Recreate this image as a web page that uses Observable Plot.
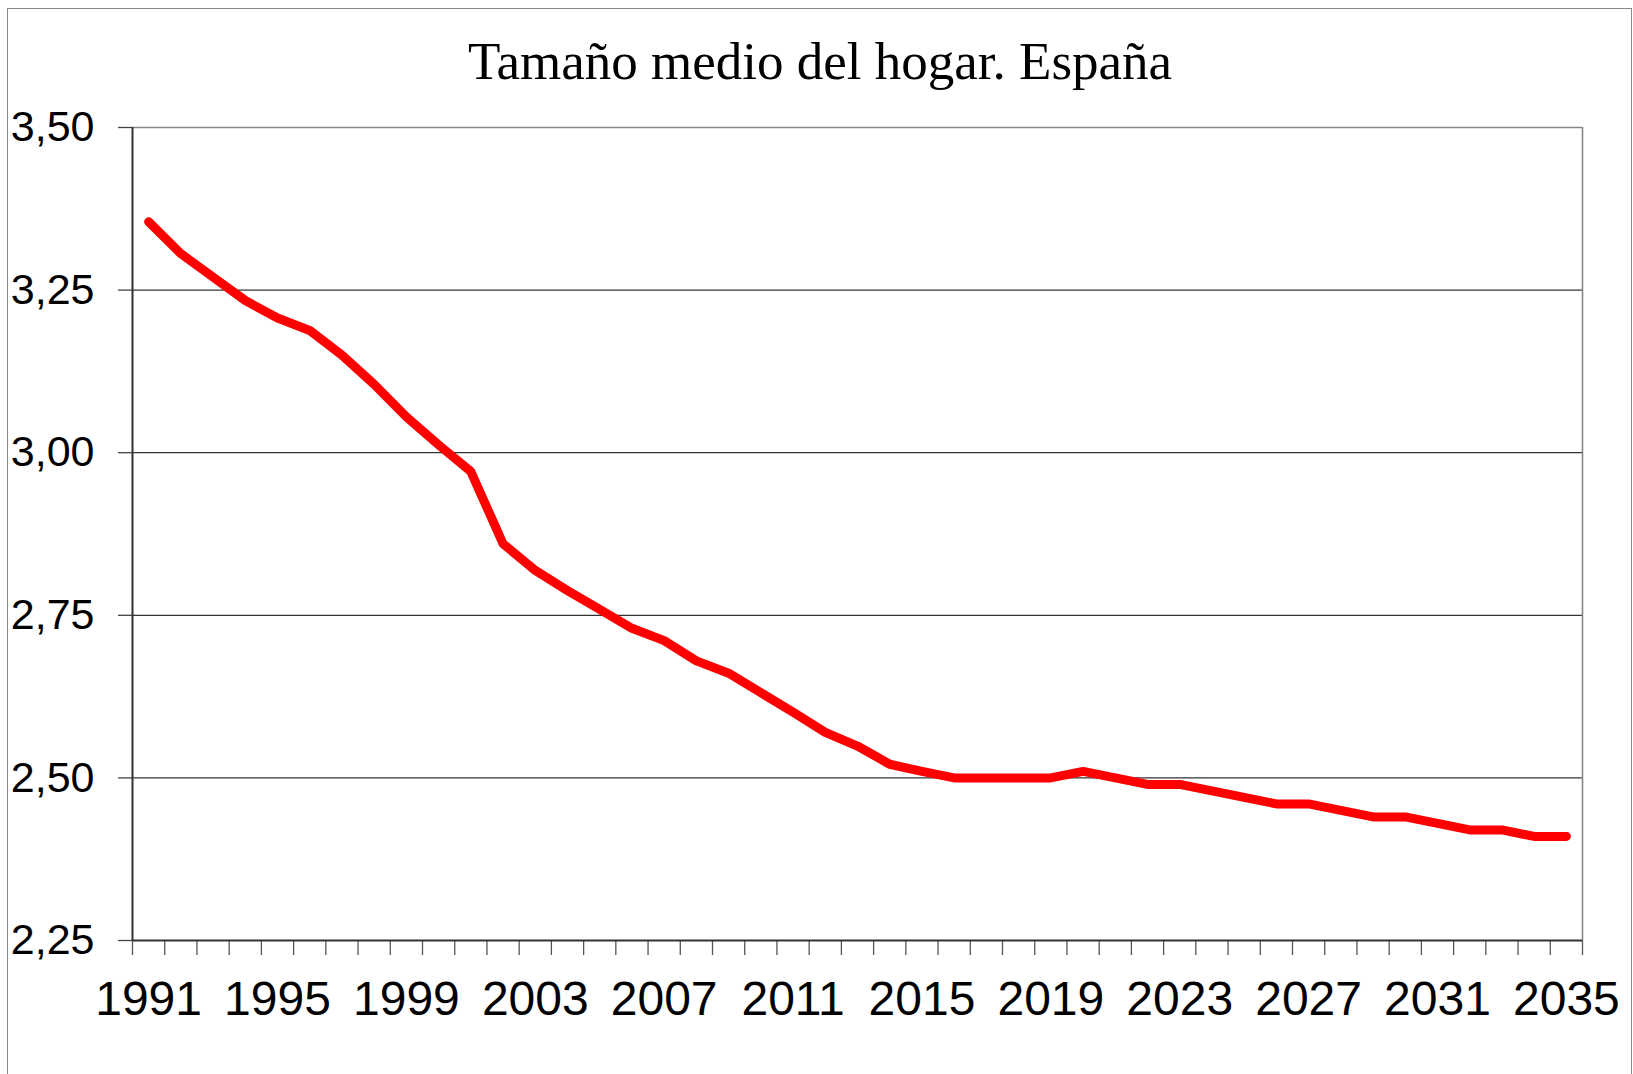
<!DOCTYPE html>
<html>
<head>
<meta charset="utf-8">
<script src="https://cdn.jsdelivr.net/npm/d3@7"></script>
<script src="https://cdn.jsdelivr.net/npm/@observablehq/plot@0.6"></script>
<style>
  html, body { margin: 0; padding: 0; background: #fff; overflow: hidden; }
  #wrap { position: relative; width: 1633px; height: 1074px; }
  #frame { position: absolute; left: 7px; top: 8px; width: 1623px; height: 1100px; border: 1px solid #8a8a8a; box-sizing: content-box; }
  #title { position: absolute; left: 0; top: 35px; width: 1640px; text-align: center; font-family: "Liberation Serif", "Times New Roman", serif; font-size: 53px; line-height: 1; color: #000; white-space: nowrap; }
  #chart { position: absolute; left: 0; top: 0; }
</style>
</head>
<body>
<div id="wrap">
  <div id="frame"></div>
  <div id="title">Tamaño medio del hogar. España</div>
  <div id="chart"></div>
</div>
<script>
const years = [1991, 1992, 1993, 1994, 1995, 1996, 1997, 1998, 1999, 2000,
               2001, 2002, 2003, 2004, 2005, 2006, 2007, 2008, 2009, 2010,
               2011, 2012, 2013, 2014, 2015, 2016, 2017, 2018, 2019, 2020,
               2021, 2022, 2023, 2024, 2025, 2026, 2027, 2028, 2029, 2030,
               2031, 2032, 2033, 2034, 2035];
const householdSize = [3.355, 3.306, 3.270, 3.234, 3.207, 3.188, 3.150, 3.105, 3.055, 3.012,
                       2.971, 2.860, 2.819, 2.788, 2.759, 2.730, 2.711, 2.680, 2.661, 2.631,
                       2.601, 2.570, 2.549, 2.521, 2.510, 2.500, 2.500, 2.500, 2.500, 2.510,
                       2.500, 2.490, 2.490, 2.480, 2.470, 2.460, 2.460, 2.450, 2.440, 2.440,
                       2.430, 2.420, 2.420, 2.410, 2.410];
const xTickLabels = [1991, 1995, 1999, 2003, 2007, 2011, 2015, 2019, 2023, 2027, 2031, 2035];
const yTicks = [2.25, 2.50, 2.75, 3.00, 3.25, 3.50];

const data = years.map((year, i) => ({year, value: householdSize[i]}));
const first = years[0] - 0.5;
const last = years[years.length - 1] + 0.5;
const edges = years.map(y => y - 0.5).concat([last]);
const innerGrid = yTicks.slice(1, -1);

const chart = Plot.plot({
  width: 1633,
  height: 1074,
  marginLeft: 132,
  marginRight: 51,
  marginTop: 127,
  marginBottom: 134,
  x: {type: "linear", domain: [first, last], label: null},
  y: {domain: [yTicks[0], yTicks[yTicks.length - 1]], label: null},
  style: {fontFamily: "'Liberation Sans', Arial, sans-serif", background: "transparent", overflow: "visible", color: "#000"},
  marks: [
    Plot.ruleY(innerGrid, {stroke: "#333", strokeWidth: 1.3}),
    Plot.ruleY([yTicks[yTicks.length - 1]], {stroke: "#888", strokeWidth: 1.6}),
    Plot.ruleX([last], {stroke: "#888", strokeWidth: 1.6}),
    Plot.axisX({ticks: edges, tickSize: 15, tickFormat: () => "", stroke: "#555", strokeWidth: 1.3}),
    Plot.axisX({ticks: xTickLabels, tickSize: 0, tickPadding: 40, fontSize: 48, tickFormat: d => String(d), fill: "#000"}),
    Plot.axisY({ticks: yTicks, tickSize: 14, tickPadding: 24, fontSize: 43, stroke: "#444", strokeWidth: 1.3, fill: "#000",
                tickFormat: d => d.toFixed(2).replace(".", ",")}),
    Plot.ruleY([yTicks[0]], {stroke: "#333", strokeWidth: 2}),
    Plot.ruleX([first], {stroke: "#333", strokeWidth: 2}),
    Plot.line(data, {x: "year", y: "value", stroke: "#ff0000", strokeWidth: 9, strokeLinecap: "round", strokeLinejoin: "round"})
  ]
});
document.getElementById("chart").appendChild(chart);
</script>
</body>
</html>
